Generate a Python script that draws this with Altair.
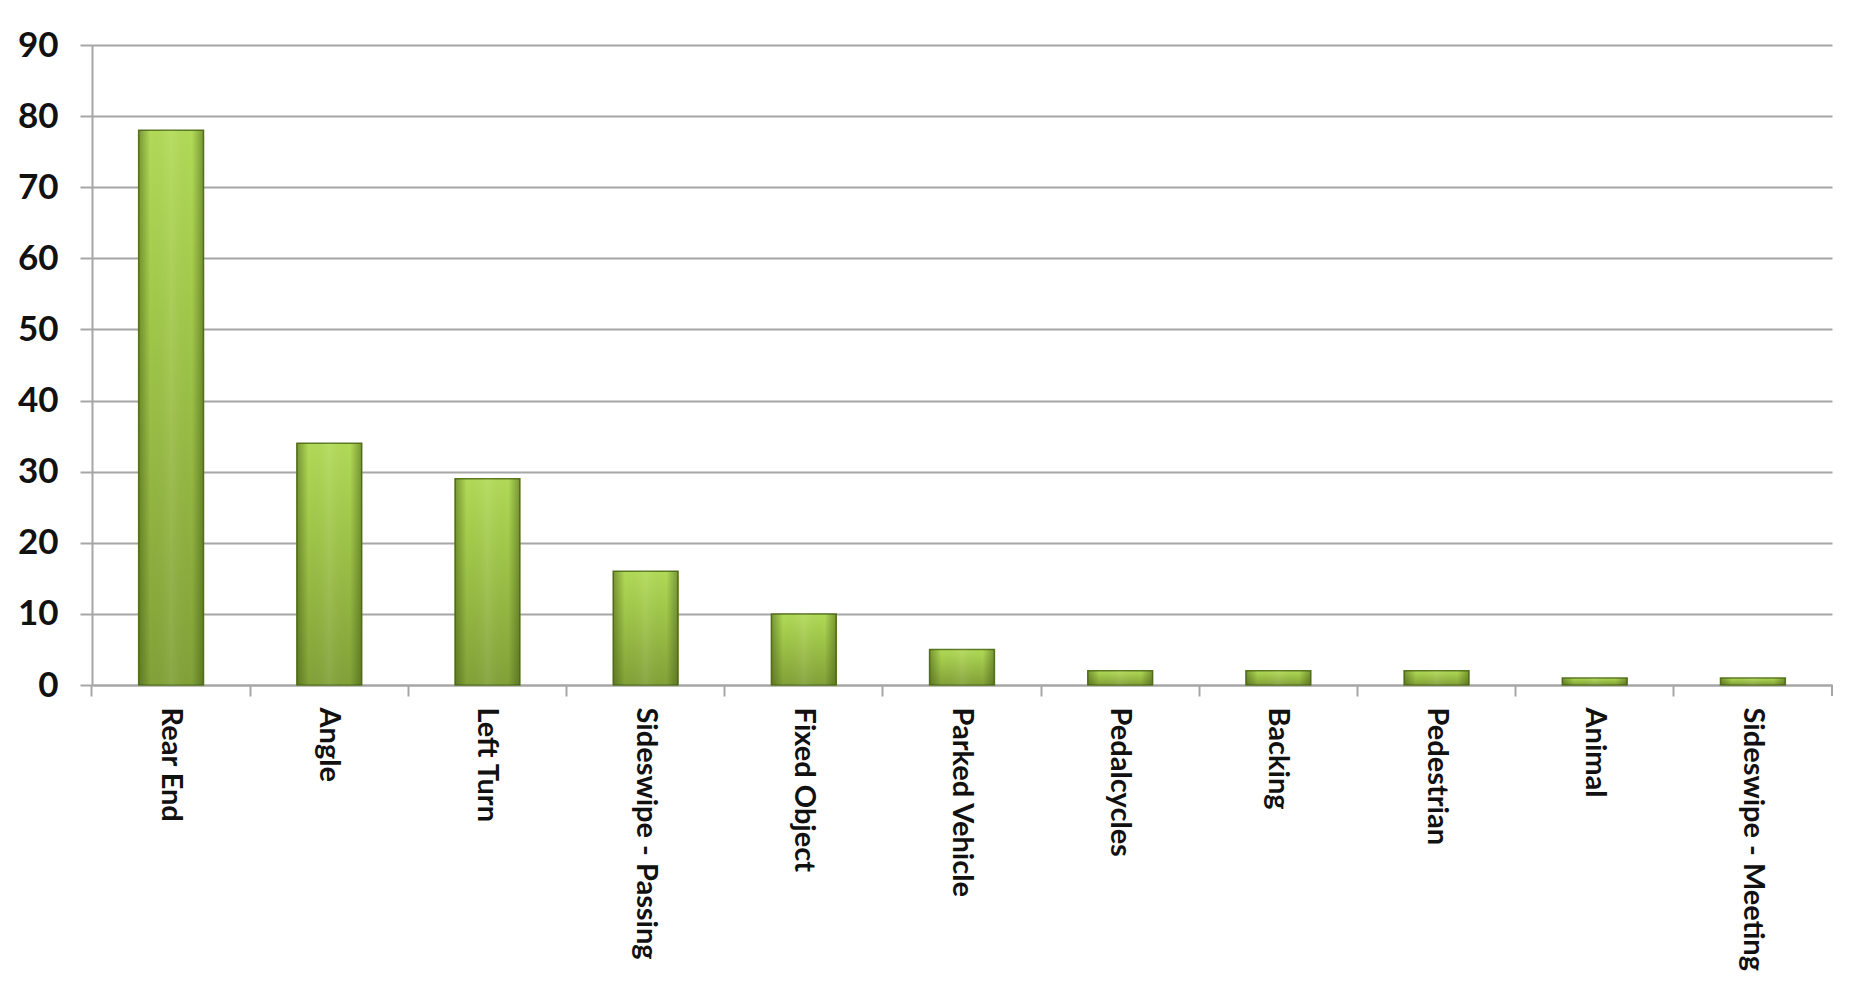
import altair as alt
import pandas as pd

categories = ["Rear End", "Angle", "Left Turn", "Sideswipe - Passing", "Fixed Object",
              "Parked Vehicle", "Pedalcycles", "Backing", "Pedestrian", "Animal",
              "Sideswipe - Meeting"]
values = [78, 34, 29, 16, 10, 5, 2, 2, 2, 1, 1]
y_ticks = [0, 10, 20, 30, 40, 50, 60, 70, 80, 90]

df = pd.DataFrame({"category": categories, "value": values})

W, H = 1740, 640
GRID = "#a6a6a6"
P_IN, P_OUT = 0.59, 0.295

x_enc = alt.X("category:N", sort=categories, title=None,
              scale=alt.Scale(paddingInner=P_IN, paddingOuter=P_OUT),
              axis=alt.Axis(labelAngle=90, labelFont="Lato", labelFontWeight="bold",
                            labelFontSize=29, labelColor="#111111", labelPadding=11,
                            tickSize=11, tickColor=GRID, tickWidth=2,
                            bandPosition=-(P_IN / 2) / (1 - P_IN),
                            domainColor=GRID, domainWidth=2, grid=False,
                            labelLimit=400))
y_enc = alt.Y("value:Q", title=None,
              scale=alt.Scale(domain=[0, 90], nice=False),
              axis=alt.Axis(values=y_ticks, labelFont="Lato", labelFontWeight="bold",
                            labelFontSize=35, labelColor="#111111", labelPadding=22,
                            tickSize=12, tickColor=GRID, tickWidth=2,
                            domainColor=GRID, domainWidth=2,
                            grid=True, gridColor=GRID, gridWidth=2))

vgrad = alt.LinearGradient(gradient="linear", x1=0, x2=0, y1=0, y2=1,
                           stops=[alt.GradientStop(color="#b2da58", offset=0),
                                  alt.GradientStop(color="#a3ca4b", offset=0.3),
                                  alt.GradientStop(color="#82a138", offset=1)])
hgrad = alt.LinearGradient(gradient="linear", x1=0, x2=1, y1=0, y2=0,
                           stops=[alt.GradientStop(color="rgba(50,70,10,0.45)", offset=0),
                                  alt.GradientStop(color="rgba(50,70,10,0.0)", offset=0.18),
                                  alt.GradientStop(color="rgba(255,255,255,0.08)", offset=0.5),
                                  alt.GradientStop(color="rgba(50,70,10,0.0)", offset=0.82),
                                  alt.GradientStop(color="rgba(50,70,10,0.45)", offset=1)])

base = alt.Chart(df)
bars = base.mark_bar(color=vgrad, stroke="#5c7a22", strokeWidth=1.5).encode(x=x_enc, y=y_enc)
shade = base.mark_bar(color=hgrad).encode(x=x_enc, y=y_enc)
right_tick = base.mark_rule(color=GRID, strokeWidth=2).encode(
    x=alt.value(W), y=alt.value(H), y2=alt.value(H + 11))

chart = alt.layer(bars, shade, right_tick).properties(
    width=W, height=H,
    autosize=alt.AutoSizeParams(type="none"),
    padding={"left": 84, "top": 37, "right": 20, "bottom": 290},
    background="white",
).configure_view(stroke=None)

chart.save("out.html", embed_options={"renderer": "svg", "actions": False})
